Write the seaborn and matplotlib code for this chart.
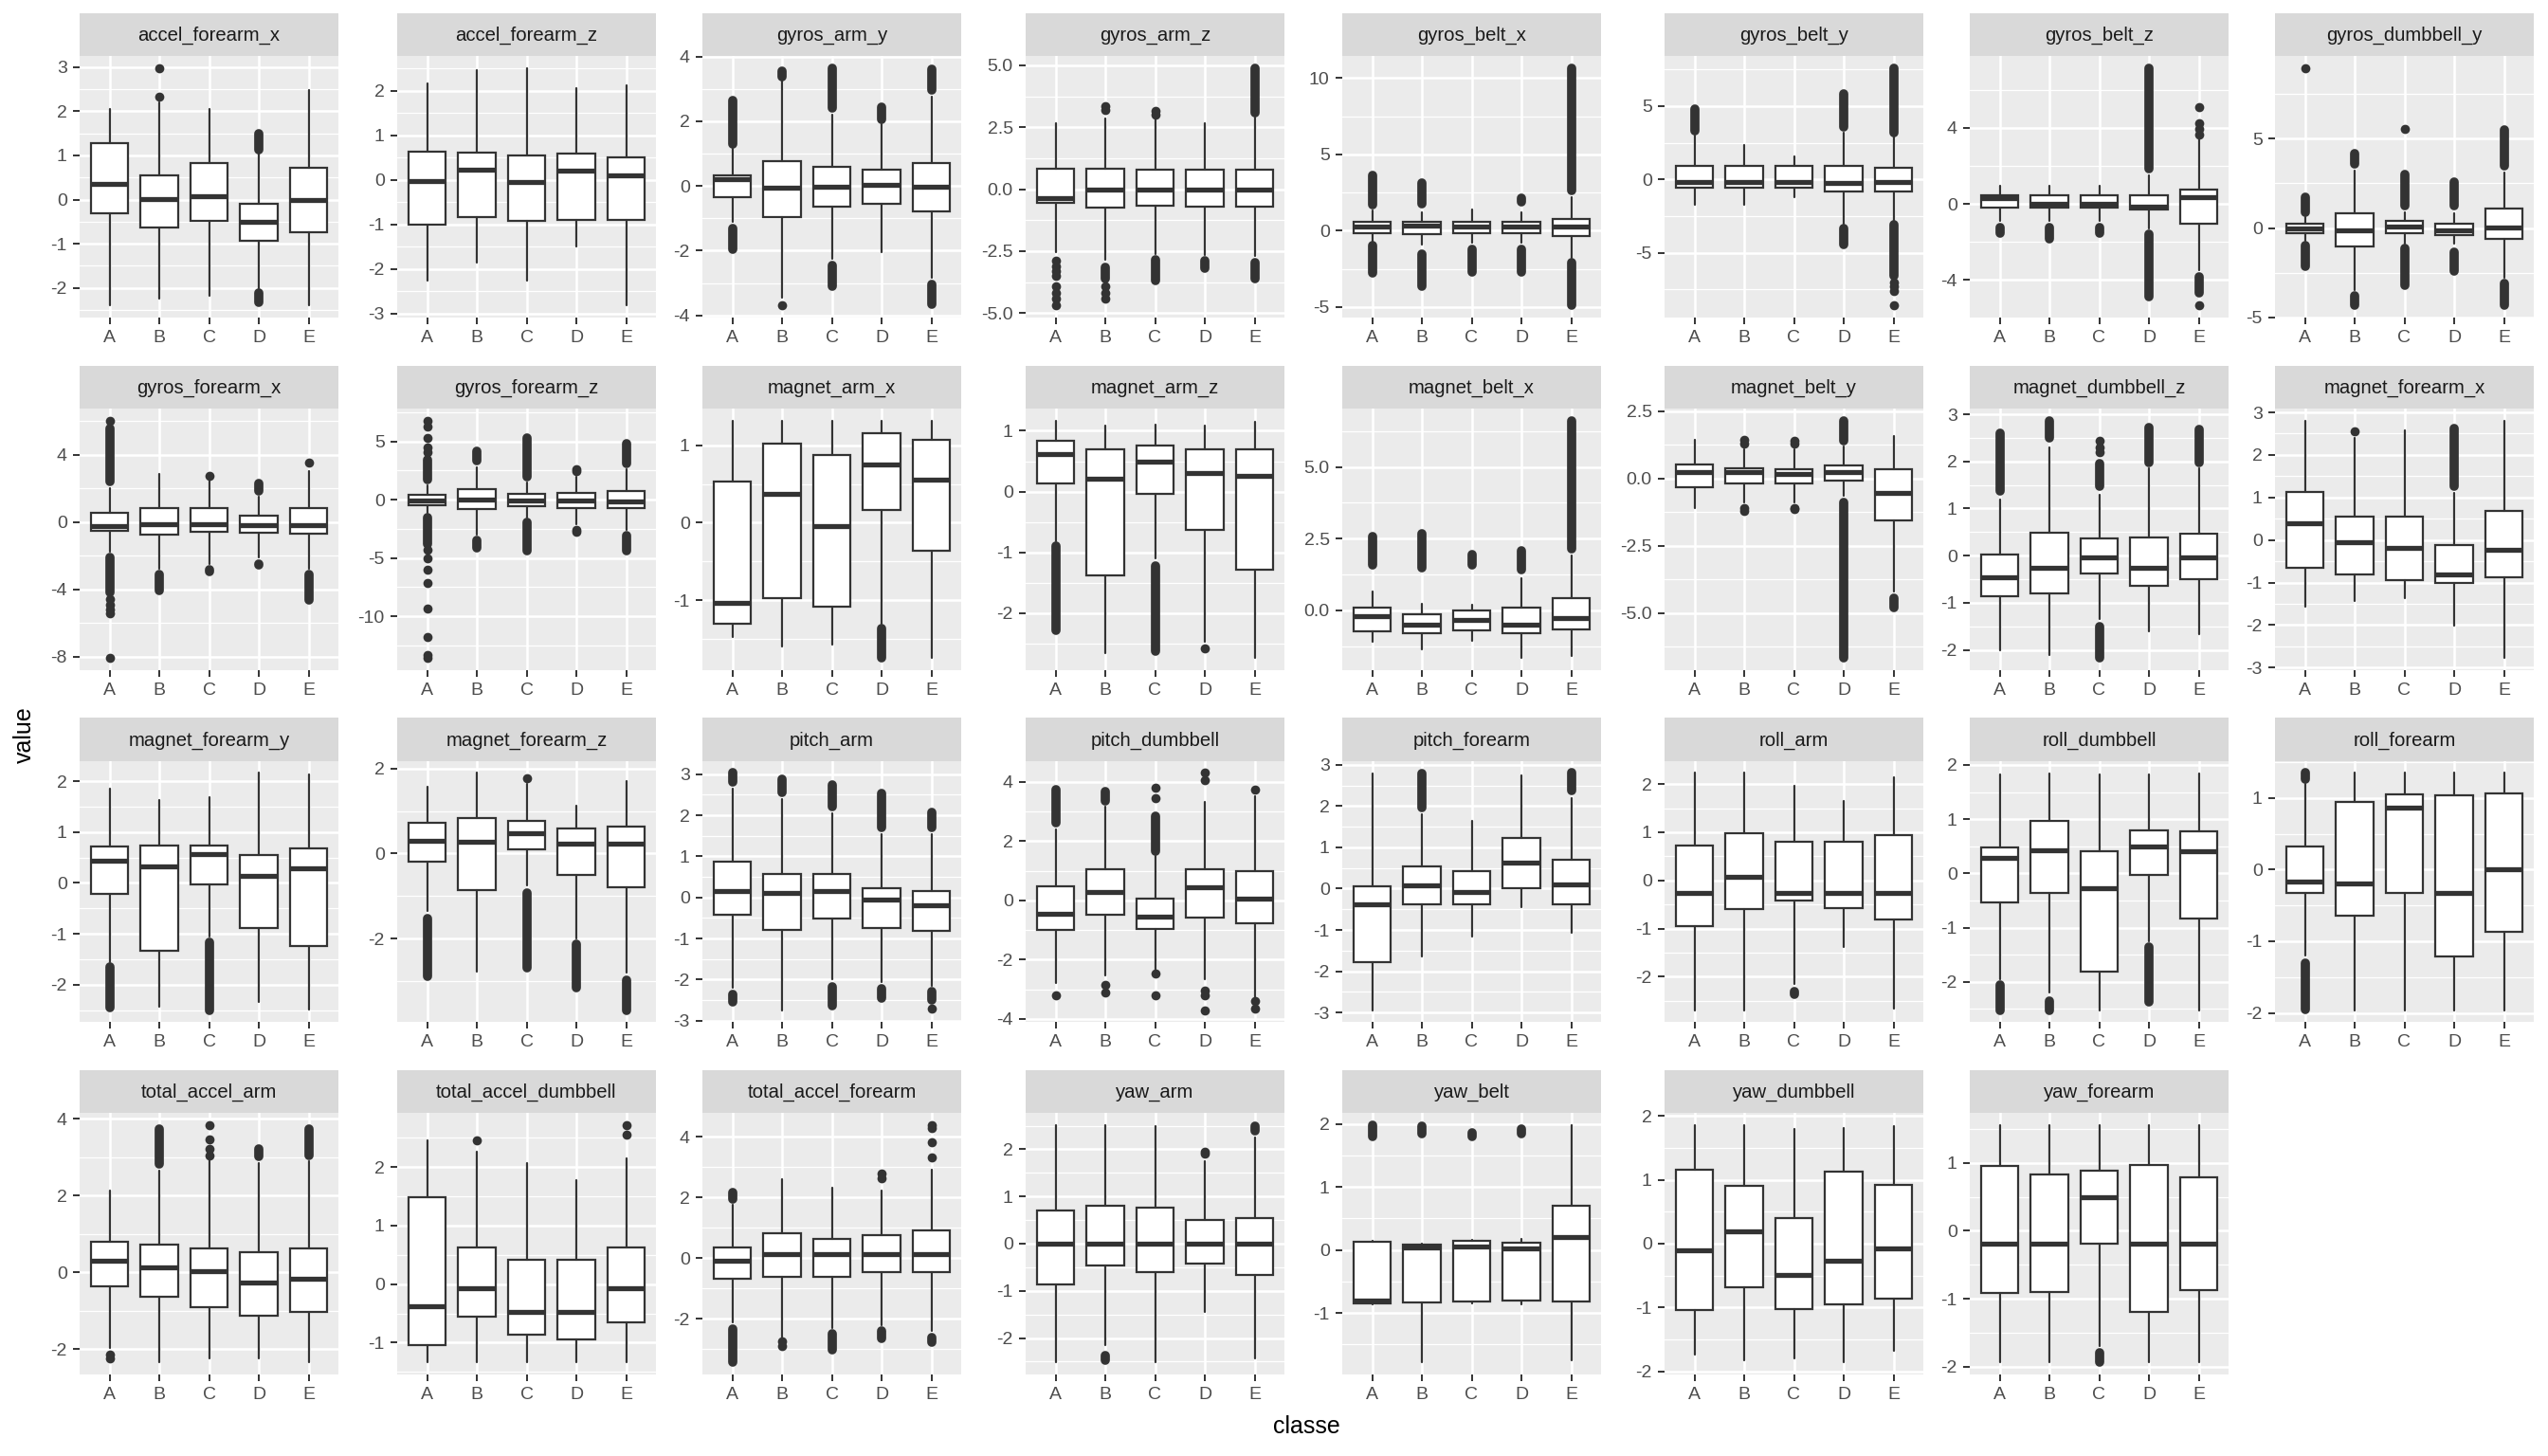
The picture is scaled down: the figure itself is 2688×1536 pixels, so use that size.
import matplotlib
matplotlib.use("Agg")
import matplotlib.pyplot as plt
import seaborn as sns
import numpy as np

# ---------------- data ----------------
features = ["accel_forearm_x", "accel_forearm_z", "gyros_arm_y", "gyros_arm_z",
            "gyros_belt_x", "gyros_belt_y", "gyros_belt_z", "gyros_dumbbell_y",
            "gyros_forearm_x", "gyros_forearm_z", "magnet_arm_x", "magnet_arm_z",
            "magnet_belt_x", "magnet_belt_y", "magnet_dumbbell_z", "magnet_forearm_x",
            "magnet_forearm_y", "magnet_forearm_z", "pitch_arm", "pitch_dumbbell",
            "pitch_forearm", "roll_arm", "roll_dumbbell", "roll_forearm",
            "total_accel_arm", "total_accel_dumbbell", "total_accel_forearm", "yaw_arm",
            "yaw_belt", "yaw_dumbbell", "yaw_forearm"]
classes = ["A", "B", "C", "D", "E"]

whisker_low = [
    [-2.40, -2.25, -2.17, -2.00, -2.40], [-2.25, -1.86, -2.25, -1.50, -2.82],
    [-1.10, -3.46, -2.25, -2.05, -2.85], [-2.54, -2.85, -2.60, -2.65, -2.70],
    [-0.70, -0.90, -0.80, -0.80, -1.78], [-1.73, -1.73, -1.19, -3.00, -2.80],
    [-0.90, -0.90, -0.90, -1.30, -3.50], [-0.70, -3.50, -0.85, -0.90, -2.80],
    [-1.75, -2.80, -2.50, -2.10, -2.80], [-1.10, -3.00, -1.50, -2.10, -2.60],
    [-1.47, -1.60, -1.57, -1.30, -1.75], [-0.82, -2.65, -1.10, -2.47, -2.74],
    [-1.09, -1.36, -1.05, -1.67, -1.59], [-1.10, -0.90, -0.90, -0.65, -4.20],
    [-2.01, -2.12, -1.35, -1.61, -1.67], [-1.56, -1.43, -1.36, -2.01, -2.78],
    [-1.55, -2.43, -1.05, -2.35, -2.49], [-1.35, -2.76, -0.75, -2.00, -2.80],
    [-2.20, -2.74, -2.00, -2.05, -2.15], [-2.78, -2.52, -2.40, -2.66, -3.27],
    [-2.94, -1.65, -1.15, -0.45, -1.07], [-2.69, -2.69, -2.15, -1.38, -2.67],
    [-1.95, -2.20, -2.52, -1.25, -2.52], [-1.20, -1.96, -1.96, -1.96, -1.96],
    [-1.98, -2.35, -2.23, -2.23, -2.35], [-1.34, -1.34, -1.34, -1.34, -1.34],
    [-2.10, -2.60, -2.30, -2.20, -2.40], [-2.52, -2.15, -2.52, -1.45, -2.43],
    [-0.87, -1.79, -0.85, -0.87, -1.76], [-1.74, -1.82, -1.79, -1.86, -1.67],
    [-1.94, -1.94, -1.70, -1.94, -1.94]]

box_q1 = [
    [-0.31, -0.63, -0.49, -0.93, -0.74], [-1.00, -0.83, -0.91, -0.89, -0.89],
    [-0.34, -0.95, -0.63, -0.56, -0.80], [-0.55, -0.74, -0.68, -0.70, -0.70],
    [-0.17, -0.25, -0.15, -0.15, -0.36], [-0.54, -0.54, -0.54, -0.80, -0.80],
    [-0.20, -0.20, -0.20, -0.30, -1.06], [-0.30, -1.01, -0.30, -0.39, -0.62],
    [-0.54, -0.73, -0.56, -0.64, -0.69], [-0.46, -0.79, -0.54, -0.74, -0.74],
    [-1.30, -0.97, -1.08, 0.16, -0.36], [0.14, -1.37, -0.03, -0.63, -1.29],
    [-0.73, -0.81, -0.70, -0.81, -0.68], [-0.31, -0.19, -0.19, -0.06, -1.54],
    [-0.86, -0.81, -0.37, -0.64, -0.51], [-0.65, -0.80, -0.95, -1.02, -0.87],
    [-0.22, -1.33, -0.03, -0.88, -1.25], [-0.19, -0.85, 0.09, -0.50, -0.78],
    [-0.41, -0.78, -0.52, -0.75, -0.81], [-1.00, -0.48, -0.96, -0.59, -0.77],
    [-1.78, -0.38, -0.38, 0.00, -0.38], [-0.94, -0.60, -0.41, -0.57, -0.82],
    [-0.53, -0.36, -1.81, -0.03, -0.84], [-0.32, -0.64, -0.32, -1.21, -0.87],
    [-0.36, -0.63, -0.92, -1.12, -1.02], [-1.04, -0.56, -0.86, -0.95, -0.66],
    [-0.68, -0.61, -0.61, -0.45, -0.45], [-0.87, -0.47, -0.61, -0.43, -0.66],
    [-0.85, -0.83, -0.82, -0.81, -0.82], [-1.04, -0.68, -1.03, -0.95, -0.86],
    [-0.92, -0.90, -0.19, -1.19, -0.88]]

box_median = [
    [0.36, 0.01, 0.07, -0.51, -0.01], [-0.02, 0.23, -0.05, 0.21, 0.11],
    [0.21, -0.05, -0.02, 0.02, -0.02], [-0.36, -0.01, 0.00, 0.00, 0.00],
    [0.25, 0.30, 0.25, 0.25, 0.25], [-0.15, -0.15, -0.15, -0.26, -0.15],
    [0.30, 0.00, 0.00, -0.15, 0.34], [0.00, -0.12, 0.09, -0.12, 0.04],
    [-0.25, -0.13, -0.13, -0.19, -0.19], [-0.05, 0.03, -0.05, -0.05, -0.11],
    [-1.04, 0.37, -0.04, 0.75, 0.56], [0.61, 0.22, 0.50, 0.31, 0.26],
    [-0.20, -0.51, -0.34, -0.51, -0.28], [0.24, 0.23, 0.17, 0.23, -0.55],
    [-0.47, -0.25, -0.03, -0.25, -0.03], [0.39, -0.05, -0.19, -0.80, -0.22],
    [0.44, 0.33, 0.56, 0.14, 0.29], [0.31, 0.28, 0.48, 0.24, 0.24],
    [0.15, 0.12, 0.15, -0.05, -0.20], [-0.45, 0.29, -0.56, 0.43, 0.05],
    [-0.38, 0.08, -0.08, 0.64, 0.10], [-0.25, 0.07, -0.25, -0.25, -0.25],
    [0.29, 0.42, -0.27, 0.50, 0.41], [-0.17, -0.19, 0.87, -0.32, 0.01],
    [0.31, 0.13, 0.04, -0.26, -0.16], [-0.37, -0.07, -0.47, -0.47, -0.07],
    [-0.08, 0.13, 0.13, 0.13, 0.13], [0.00, 0.00, 0.00, 0.00, 0.00],
    [-0.80, 0.04, 0.05, 0.03, 0.20], [-0.11, 0.20, -0.49, -0.26, -0.07],
    [-0.19, -0.19, 0.50, -0.19, -0.19]]

box_q3 = [
    [1.27, 0.54, 0.82, -0.09, 0.71], [0.64, 0.62, 0.56, 0.60, 0.52],
    [0.32, 0.78, 0.58, 0.49, 0.70], [0.83, 0.83, 0.77, 0.77, 0.79],
    [0.56, 0.56, 0.56, 0.56, 0.77], [0.93, 0.93, 0.93, 0.93, 0.80],
    [0.47, 0.47, 0.47, 0.47, 0.76], [0.23, 0.83, 0.41, 0.23, 1.07],
    [0.58, 0.81, 0.81, 0.38, 0.86], [0.41, 0.90, 0.49, 0.57, 0.71],
    [0.53, 1.02, 0.87, 1.16, 1.07], [0.83, 0.70, 0.75, 0.69, 0.69],
    [0.08, -0.12, -0.01, 0.08, 0.44], [0.53, 0.40, 0.36, 0.50, 0.36],
    [0.02, 0.49, 0.37, 0.39, 0.47], [1.12, 0.54, 0.56, -0.11, 0.69],
    [0.71, 0.73, 0.73, 0.55, 0.67], [0.72, 0.83, 0.76, 0.59, 0.63],
    [0.88, 0.57, 0.57, 0.22, 0.15], [0.46, 1.04, 0.07, 1.04, 1.00],
    [0.06, 0.54, 0.43, 1.23, 0.71], [0.72, 0.98, 0.81, 0.81, 0.94],
    [0.47, 0.96, 0.40, 0.80, 0.77], [0.32, 0.95, 1.05, 1.04, 1.07],
    [0.80, 0.72, 0.61, 0.52, 0.61], [1.49, 0.62, 0.42, 0.42, 0.62],
    [0.34, 0.83, 0.65, 0.76, 0.93], [0.70, 0.80, 0.77, 0.50, 0.55],
    [0.13, 0.09, 0.15, 0.12, 0.70], [1.15, 0.90, 0.40, 1.12, 0.92],
    [0.95, 0.83, 0.88, 0.97, 0.78]]

whisker_high = [
    [2.05, 2.20, 2.05, 1.05, 2.48], [2.16, 2.47, 2.52, 2.06, 2.13],
    [1.15, 3.30, 2.20, 1.90, 2.75], [2.65, 2.85, 2.80, 2.65, 2.90],
    [1.35, 1.20, 1.36, 1.20, 2.20], [3.00, 2.34, 1.58, 3.20, 2.90],
    [0.93, 0.96, 0.93, 1.50, 3.40], [0.60, 3.20, 0.90, 0.80, 3.10],
    [2.00, 2.87, 2.60, 1.50, 3.06], [1.20, 2.80, 1.50, 2.00, 2.60],
    [1.31, 1.32, 1.31, 1.32, 1.32], [1.17, 1.08, 1.10, 1.08, 1.15],
    [0.65, 0.24, 0.21, 1.13, 1.90], [1.45, 1.10, 1.10, 1.20, 1.59],
    [1.20, 2.30, 1.30, 1.85, 1.85], [2.79, 2.40, 2.58, 1.10, 2.81],
    [1.85, 1.63, 1.69, 2.16, 2.13], [1.57, 1.89, 1.63, 1.13, 1.69],
    [2.65, 2.40, 2.05, 1.55, 1.55], [2.40, 3.15, 1.50, 3.32, 3.50],
    [2.78, 1.80, 1.65, 2.74, 2.20], [2.23, 2.23, 1.97, 1.65, 2.14],
    [1.83, 1.85, 1.82, 1.82, 1.85], [1.20, 1.35, 1.35, 1.35, 1.35],
    [2.13, 2.65, 2.95, 2.85, 2.90], [2.45, 2.26, 2.07, 1.78, 2.15],
    [1.75, 2.62, 2.33, 2.22, 2.91], [2.52, 2.52, 2.49, 1.75, 2.25],
    [0.15, 0.10, 0.16, 0.17, 1.99], [1.86, 1.86, 1.80, 1.81, 1.84],
    [1.56, 1.56, 1.56, 1.56, 1.56]]

# dense stretches of outliers (from, to) and isolated outlier values
outlier_runs = {
    "accel_forearm_x": {"D": [(1.12, 1.50), (-2.12, -2.32)]},
    "gyros_arm_y": {"A": [(1.30, 2.63), (-1.30, -1.95)], "B": [(3.38, 3.55)],
                    "C": [(2.40, 3.65), (-2.45, -3.10)], "D": [(2.05, 2.45)],
                    "E": [(2.95, 3.60), (-3.05, -3.65)]},
    "gyros_arm_z": {"B": [(-3.15, -3.60)], "C": [(-2.85, -3.70)], "D": [(-2.90, -3.20)],
                    "E": [(3.10, 4.90), (-2.95, -3.60)]},
    "gyros_belt_x": {"A": [(1.70, 3.65), (-1.00, -2.80)], "B": [(1.75, 3.15), (-1.55, -3.65)],
                     "C": [(-1.25, -2.70)], "D": [(1.88, 2.10), (-1.25, -2.70)],
                     "E": [(2.60, 10.67), (-2.10, -4.92)]},
    "gyros_belt_y": {"A": [(3.30, 4.77)], "D": [(3.55, 5.85), (-3.35, -4.45)],
                     "E": [(3.20, 7.60), (-3.10, -6.60)]},
    "gyros_belt_z": {"A": [(-1.26, -1.52)], "B": [(-1.26, -1.82)], "C": [(-1.26, -1.52)],
                     "D": [(1.85, 7.15), (-1.60, -4.90)], "E": [(-3.85, -4.70)]},
    "gyros_dumbbell_y": {"A": [(0.90, 1.70), (-0.98, -2.13)], "B": [(3.56, 4.17), (-3.79, -4.35)],
                         "C": [(1.25, 3.02), (-1.16, -3.19)], "D": [(1.25, 2.57), (-1.34, -2.39)],
                         "E": [(3.47, 5.50), (-3.11, -4.35)]},
    "gyros_forearm_x": {"A": [(2.40, 5.60), (-2.10, -4.20)], "B": [(-3.13, -4.07)],
                        "C": [(-2.85, -2.95)], "D": [(1.84, 2.31), (-2.48, -2.57)],
                        "E": [(-3.13, -4.64)]},
    "gyros_forearm_z": {"A": [(1.70, 3.40), (-1.55, -3.80)], "B": [(3.35, 4.17), (-3.46, -4.14)],
                        "C": [(2.00, 5.26), (-1.96, -4.41)], "E": [(3.08, 4.85), (-3.05, -4.41)]},
    "magnet_arm_x": {"D": [(-1.37, -1.75)]},
    "magnet_arm_z": {"A": [(-0.90, -2.28)], "C": [(-1.22, -2.62)]},
    "magnet_belt_x": {"A": [(1.58, 2.57)], "B": [(1.49, 2.66)], "C": [(1.58, 1.96)],
                      "D": [(1.41, 2.07)], "E": [(2.13, 6.62)]},
    "magnet_belt_y": {"D": [(1.39, 2.16), (-0.87, -6.68)], "E": [(-4.43, -4.78)]},
    "magnet_dumbbell_z": {"A": [(1.37, 2.60)], "B": [(2.49, 2.87)],
                          "C": [(1.48, 1.95), (-1.50, -2.18)], "D": [(1.98, 2.73)],
                          "E": [(1.98, 2.67)]},
    "magnet_forearm_x": {"D": [(1.26, 2.62)]},
    "magnet_forearm_y": {"A": [(-1.65, -2.46)], "C": [(-1.17, -2.50)]},
    "magnet_forearm_z": {"A": [(-1.52, -2.89)], "C": [(-0.92, -2.67)], "D": [(-2.12, -3.15)],
                         "E": [(-2.96, -3.67)]},
    "pitch_arm": {"A": [(2.82, 3.03), (-2.37, -2.55)], "B": [(2.55, 2.89)],
                  "C": [(2.21, 2.75), (-2.18, -2.63)], "D": [(1.71, 2.54), (-2.22, -2.44)],
                  "E": [(1.71, 2.08), (-2.30, -2.50)]},
    "pitch_dumbbell": {"A": [(2.62, 3.75)], "B": [(3.37, 3.69)], "C": [(1.66, 2.84)]},
    "pitch_forearm": {"B": [(1.97, 2.79)], "E": [(2.37, 2.80)]},
    "roll_arm": {"C": [(-2.30, -2.37)]},
    "roll_dumbbell": {"A": [(-2.06, -2.52)], "B": [(-2.35, -2.52)], "D": [(-1.36, -2.37)]},
    "roll_forearm": {"A": [(1.26, 1.35), (-1.31, -1.95)]},
    "total_accel_arm": {"B": [(2.81, 3.72)], "D": [(3.01, 3.22)], "E": [(3.05, 3.73)]},
    "total_accel_forearm": {"A": [(1.96, 2.17), (-2.34, -3.44)], "C": [(-2.50, -3.02)],
                            "D": [(-2.40, -2.65)], "E": [(-2.60, -2.76)]},
    "yaw_arm": {"B": [(-2.38, -2.48)], "E": [(2.39, 2.49)]},
    "yaw_belt": {"A": [(1.80, 1.98)], "B": [(1.85, 1.97)], "C": [(1.80, 1.87)], "D": [(1.85, 1.92)]},
    "yaw_forearm": {"C": [(-1.80, -1.93)]},
}

outlier_points = {
    "accel_forearm_x": {"B": [2.33, 2.98]},
    "gyros_arm_y": {"B": [-3.70]},
    "gyros_arm_z": {"A": [-2.90, -3.10, -3.30, -3.50, -3.90, -4.20, -4.40, -4.70],
                    "B": [3.20, 3.35, -3.90, -4.20, -4.40], "C": [3.00, 3.15]},
    "gyros_belt_y": {"E": [-7.00, -7.30, -7.60, -8.60]},
    "gyros_belt_z": {"E": [3.65, 3.95, 4.25, 5.10, -5.35]},
    "gyros_dumbbell_y": {"A": [8.97], "C": [5.54]},
    "gyros_forearm_x": {"A": [6.05, -4.60, -4.90, -5.20, -5.40, -8.10], "C": [2.78], "E": [3.56]},
    "gyros_forearm_z": {"A": [4.10, 4.50, 5.30, 6.30, 6.80, -4.30, -5.00, -6.00, -7.10,
                              -9.30, -11.80, -13.30, -13.60],
                        "D": [2.45, 2.65, -2.55, -2.75]},
    "magnet_arm_z": {"D": [-2.57]},
    "magnet_belt_y": {"B": [1.30, 1.45, -1.10, -1.20], "C": [1.30, 1.40, -1.10, -1.15]},
    "magnet_dumbbell_z": {"C": [2.20, 2.30, 2.43]},
    "magnet_forearm_x": {"B": [2.55]},
    "magnet_forearm_z": {"C": [1.76]},
    "pitch_arm": {"E": [-2.70]},
    "pitch_dumbbell": {"A": [-3.21], "B": [-2.85, -3.10], "C": [3.45, 3.80, -2.46, -3.21],
                       "D": [4.05, 4.30, -3.05, -3.20, -3.70], "E": [3.75, -3.40, -3.65]},
    "total_accel_arm": {"A": [-2.13, -2.25], "C": [3.05, 3.20, 3.45, 3.84]},
    "total_accel_dumbbell": {"B": [2.45], "E": [2.55, 2.72]},
    "total_accel_forearm": {"B": [-2.75, -2.90], "D": [2.65, 2.80], "E": [3.33, 3.82, 4.30, 4.40]},
    "yaw_arm": {"D": [1.90, 1.95]},
}

y_breaks = [
    [-2, -1, 0, 1, 2, 3], [-3, -2, -1, 0, 1, 2], [-4, -2, 0, 2, 4], [-5, -2.5, 0, 2.5, 5],
    [-5, 0, 5, 10], [-5, 0, 5], [-4, 0, 4], [-5, 0, 5],
    [-8, -4, 0, 4], [-10, -5, 0, 5], [-1, 0, 1], [-2, -1, 0, 1],
    [0, 2.5, 5], [-5, -2.5, 0, 2.5], [-2, -1, 0, 1, 2, 3], [-3, -2, -1, 0, 1, 2, 3],
    [-2, -1, 0, 1, 2], [-2, 0, 2], [-3, -2, -1, 0, 1, 2, 3], [-4, -2, 0, 2, 4],
    [-3, -2, -1, 0, 1, 2, 3], [-2, -1, 0, 1, 2], [-2, -1, 0, 1, 2], [-2, -1, 0, 1],
    [-2, 0, 2, 4], [-1, 0, 1, 2], [-2, 0, 2, 4], [-2, -1, 0, 1, 2],
    [-1, 0, 1, 2], [-2, -1, 0, 1, 2], [-2, -1, 0, 1]]

# ---------------- style ----------------
sns.set_theme(style="darkgrid", rc={"axes.facecolor": "#EBEBEB", "grid.color": "white"})
plt.rcParams["font.family"] = ["Liberation Sans", "DejaVu Sans"]
plt.rcParams["axes.unicode_minus"] = False

INK = "#333333"
W, H, DPI = 2688, 1536, 200
fig = plt.figure(figsize=(W / DPI, H / DPI), dpi=DPI)
fig.patch.set_facecolor("white")

col_left = [84, 419, 741, 1082, 1416, 1756, 2078, 2400]
panel_w = 273
strip_top = [14, 386, 757, 1129]
panel_top = [59, 431, 803, 1174]
panel_bottom = [335, 707, 1078, 1450]
dot_pt = 3.5
xpos = np.arange(1, len(classes) + 1)


def fmt_breaks(br):
    if all(float(b).is_integer() for b in br):
        return [str(int(b)) for b in br]
    return ["%.1f" % b for b in br]


for i, feat in enumerate(features):
    r, c = divmod(i, 8)
    x0 = col_left[c]
    pt, pb, st = panel_top[r], panel_bottom[r], strip_top[r]

    # strip
    sax = fig.add_axes([x0 / W, 1 - pt / H, panel_w / W, (pt - st) / H])
    sax.set_facecolor("#D9D9D9")
    sax.set_xticks([]); sax.set_yticks([])
    sax.grid(False)
    for s in sax.spines.values():
        s.set_visible(False)
    sax.text(0.5, 0.47, feat, ha="center", va="center", fontsize=7.3,
             color="#1A1A1A", transform=sax.transAxes)

    ax = fig.add_axes([x0 / W, 1 - pb / H, panel_w / W, (pb - pt) / H])
    ax.set_facecolor("#EBEBEB")
    for s in ax.spines.values():
        s.set_visible(False)

    stats = []
    for j, cl in enumerate(classes):
        stats.append(dict(whislo=whisker_low[i][j], q1=box_q1[i][j], med=box_median[i][j],
                          q3=box_q3[i][j], whishi=whisker_high[i][j], fliers=[], label=cl))
    ax.bxp(stats, positions=xpos, widths=0.75, patch_artist=True, showfliers=False,
           showcaps=False, manage_ticks=False,
           boxprops=dict(facecolor="white", edgecolor=INK, linewidth=0.8),
           medianprops=dict(color=INK, linewidth=1.9, solid_capstyle="butt"),
           whiskerprops=dict(color=INK, linewidth=0.8))

    vals = list(whisker_low[i]) + list(whisker_high[i])
    for j, cl in enumerate(classes):
        for lo, hi in outlier_runs.get(feat, {}).get(cl, []):
            ax.plot([xpos[j], xpos[j]], [lo, hi], color=INK, lw=dot_pt,
                    solid_capstyle="round", zorder=4)
            vals += [lo, hi]
        pts = outlier_points.get(feat, {}).get(cl, [])
        if pts:
            ax.plot([xpos[j]] * len(pts), pts, "o", ms=dot_pt, color=INK, mew=0, zorder=4)
            vals += pts

    lo, hi = min(vals), max(vals)
    pad = 0.05 * (hi - lo)
    ylo, yhi = lo - pad, hi + pad
    ax.set_ylim(ylo, yhi)
    ax.set_xlim(0.4, len(classes) + 0.6)

    br = y_breaks[i]
    ax.set_yticks(br)
    ax.set_yticklabels(fmt_breaks(br))
    step = br[1] - br[0]
    ext = [br[0] - step] + list(br) + [br[-1] + step]
    minors = [(a + b) / 2 for a, b in zip(ext[:-1], ext[1:])]
    minors = [m for m in minors if ylo <= m <= yhi]
    ax.set_yticks(minors, minor=True)
    ax.set_xticks(xpos)
    ax.set_xticklabels(classes)

    ax.grid(which="major", axis="both", color="white", linewidth=0.9)
    ax.grid(which="minor", axis="y", color="white", linewidth=0.45)
    ax.grid(which="minor", axis="x", visible=False)
    ax.set_axisbelow(True)
    ax.tick_params(axis="both", which="major", length=2.6, width=0.7, color=INK,
                   labelcolor="#4D4D4D", labelsize=7.0, pad=2.2,
                   left=True, bottom=True)
    ax.tick_params(axis="both", which="minor", length=0, left=False, bottom=False)

fig.text(26 / W, 1 - 775 / H, "value", rotation=90, ha="center", va="center",
         fontsize=9, color="black")
fig.text(1378 / W, 1 - 1505 / H, "classe", ha="center", va="center",
         fontsize=9, color="black")

fig.savefig("out.png", dpi=DPI, facecolor="white")
